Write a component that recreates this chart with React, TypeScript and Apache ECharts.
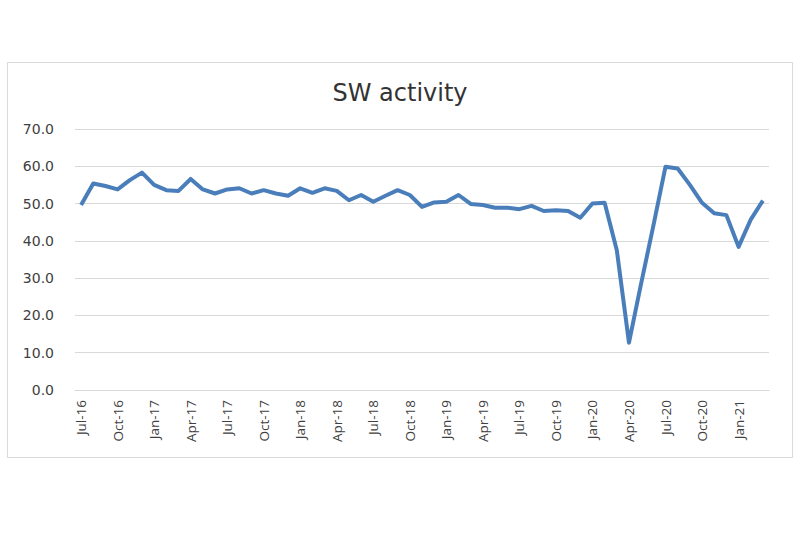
import React, { useEffect, useRef } from "react";
import * as echarts from "echarts";

const months = ["Jan", "Feb", "Mar", "Apr", "May", "Jun", "Jul", "Aug", "Sep", "Oct", "Nov", "Dec"];
const categories: string[] = [];
for (let y = 16; y <= 21; y++) {
  for (let m = 0; m < 12; m++) {
    if (y === 16 && m < 6) continue;
    if (y === 21 && m > 2) continue;
    categories.push(`${months[m]}-${y}`);
  }
}

const swActivity = [
  49.6, 55.4, 54.7, 53.8, 56.3, 58.3, 55.0, 53.6, 53.4, 56.6, 53.8, 52.7,
  53.8, 54.1, 52.7, 53.6, 52.7, 52.1, 54.1, 52.9, 54.1, 53.4, 50.9, 52.3,
  50.5, 52.1, 53.6, 52.3, 49.1, 50.3, 50.5, 52.3, 49.9, 49.6, 48.9, 48.9,
  48.5, 49.4, 48.0, 48.2, 48.0, 46.2, 50.0, 50.2, 37.5, 12.7, 28.6, 44.0,
  59.9, 59.4, 55.0, 50.2, 47.4, 46.9, 38.4, 45.7, 50.8,
];

const yTicks = { min: 0, max: 70, interval: 10 };

export default function App() {
  const ref = useRef<HTMLDivElement>(null);
  useEffect(() => {
    if (!ref.current) return;
    const chart = echarts.init(ref.current, undefined, { renderer: "svg" });
    chart.setOption({
      animation: false,
      backgroundColor: "#ffffff",
      textStyle: { fontFamily: "DejaVu Sans" },
      title: {
        text: "SW activity",
        left: "center",
        top: 76,
        textStyle: { fontFamily: "DejaVu Sans", fontSize: 24, fontWeight: "normal", color: "#333333" },
      },
      graphic: [
        {
          type: "rect",
          shape: { x: 7.5, y: 62.5, width: 785, height: 395 },
          style: { fill: "none", stroke: "#d9d9d9", lineWidth: 1 },
          silent: true,
        },
      ],
      grid: { left: 75, right: 31, top: 129, bottom: 143, containLabel: false },
      xAxis: {
        type: "category",
        data: categories,
        boundaryGap: true,
        axisLine: { show: true, lineStyle: { color: "#d9d9d9", width: 1.2 } },
        axisTick: { show: false },
        axisLabel: {
          interval: 2,
          rotate: 90,
          margin: 10,
          fontSize: 13.5,
          color: "#404040",
          fontFamily: "Open Sans",
        },
        splitLine: { show: false },
      },
      yAxis: {
        type: "value",
        min: yTicks.min,
        max: yTicks.max,
        interval: yTicks.interval,
        axisLine: { show: false },
        axisTick: { show: false },
        axisLabel: {
          margin: 21,
          fontSize: 14,
          color: "#404040",
          fontFamily: "DejaVu Sans",
          formatter: (v: number) => v.toFixed(1),
        },
        splitLine: { show: true, lineStyle: { color: "#d9d9d9", width: 1.2 } },
      },
      series: [
        {
          type: "line",
          data: swActivity,
          showSymbol: false,
          symbol: "none",
          lineStyle: { color: "#4a7ebb", width: 4, join: "round" },
          itemStyle: { color: "#4a7ebb" },
        },
      ],
    });
    return () => chart.dispose();
  }, []);
  return (
    <div
      ref={ref}
      style={{ position: "fixed", left: 0, top: 0, width: 800, height: 533, background: "#fff" }}
    />
  );
}
